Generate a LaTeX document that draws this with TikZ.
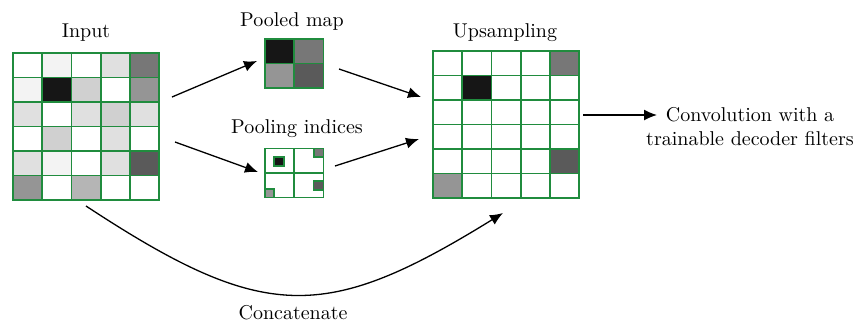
\documentclass[tikz,border=0pt]{standalone}
\usepackage{tikz}
\usetikzlibrary{arrows.meta,positioning,calc}
\definecolor{gridgreen}{RGB}{32,140,62}
\definecolor{gA}{HTML}{F3F3F3}
\definecolor{gB}{HTML}{E0E0E0}
\definecolor{gC}{HTML}{D0D0D0}
\definecolor{gD}{HTML}{B5B5B5}
\definecolor{gE}{HTML}{959595}
\definecolor{gF}{HTML}{777777}
\definecolor{gG}{HTML}{5A5A5A}
\definecolor{gH}{HTML}{161616}
\tikzset{cellbox/.style={fill=#1, draw=gridgreen, line width=0.9pt},
	markbox/.style={fill=#1, draw=gridgreen, line width=0.7pt},
	txt/.style={inner sep=0pt, align=center, font=\fontsize{10}{12}\selectfont},
	flow/.style={-{Latex[length=6.5pt,width=5.5pt]}, line width=0.65pt}}
% grid of cells: left, top, rows of fill colours
\newcommand{\cellgrid}[3]{%
	\foreach \rowcols [count=\r from 0] in {#3} {
		\foreach \c [count=\k from 0] in \rowcols {
			\draw[cellbox=\c] ({#1+\k*29.2},{#2+\r*24.5}) rectangle ++(29.2,24.5);
		}
	}
}

\begin{document}
\begin{tikzpicture}[x=0.5pt,y=-0.5pt]
	\useasboundingbox (0,0) rectangle (853,323);
	\cellgrid{13}{53}{{white,gA,white,gB,gF},{gA,gH,gC,white,gE},{gB,white,gB,gC,gB},{white,gC,white,gB,white},{gB,gA,white,gB,gG},{gE,white,gD,white,white}}
	\cellgrid{265}{39}{{gH,gF},{gE,gG}}
	\cellgrid{265}{148.5}{{white,white},{white,white}}
	\draw[markbox=gH] (274,157) rectangle (284,166);
	\draw[markbox=gF] (314,148.5) rectangle (323.4,157);
	\draw[markbox=gG] (313.5,181) rectangle (323.4,190);
	\draw[markbox=gE] (265,189) rectangle (274,197.5);
	\cellgrid{433}{51}{{white,white,white,white,gF},{white,gH,white,white,white},{white,white,white,white,white},{white,white,white,white,white},{white,white,white,white,gG},{gE,white,white,white,white}}
	% titles
	\node[txt, anchor=base] (input) at (86,37) {Input};
	\node[txt, anchor=base] (pooled) at (292,26) {Pooled map};
	\node[txt, anchor=base] (indices) at (297,133) {Pooling indices};
	\node[txt, anchor=base] (upsamp) at (505,37) {Upsampling};
	\node[txt] (conv) at (750,127) {Convolution with a\\trainable decoder filters};
	\node[txt, anchor=base] (concat) at (293,319) {Concatenate};
	% arrow ends
	\coordinate (inA) at (172,97);
	\coordinate (pmA) at (257,61);
	\coordinate (inB) at (175,142);
	\coordinate (piA) at (258,172);
	\coordinate (pmB) at (339,69);
	\coordinate (upA) at (421,97);
	\coordinate (piB) at (335,166);
	\coordinate (upB) at (419,139);
	\coordinate (upC) at (583,115);
	\coordinate (cvA) at (657,115);
	\coordinate (inC) at (86,206);
	\coordinate (upD) at (503,213);
	\draw[flow] (inA) -- (pmA);
	\draw[flow] (inB) -- (piA);
	\draw[flow] (pmB) -- (upA);
	\draw[flow] (piB) -- (upB);
	\draw[flow] (upC) -- (cvA);
	\draw[flow] (inC) .. controls (264,323) and (325,323) .. (upD);
\end{tikzpicture}
\end{document}
